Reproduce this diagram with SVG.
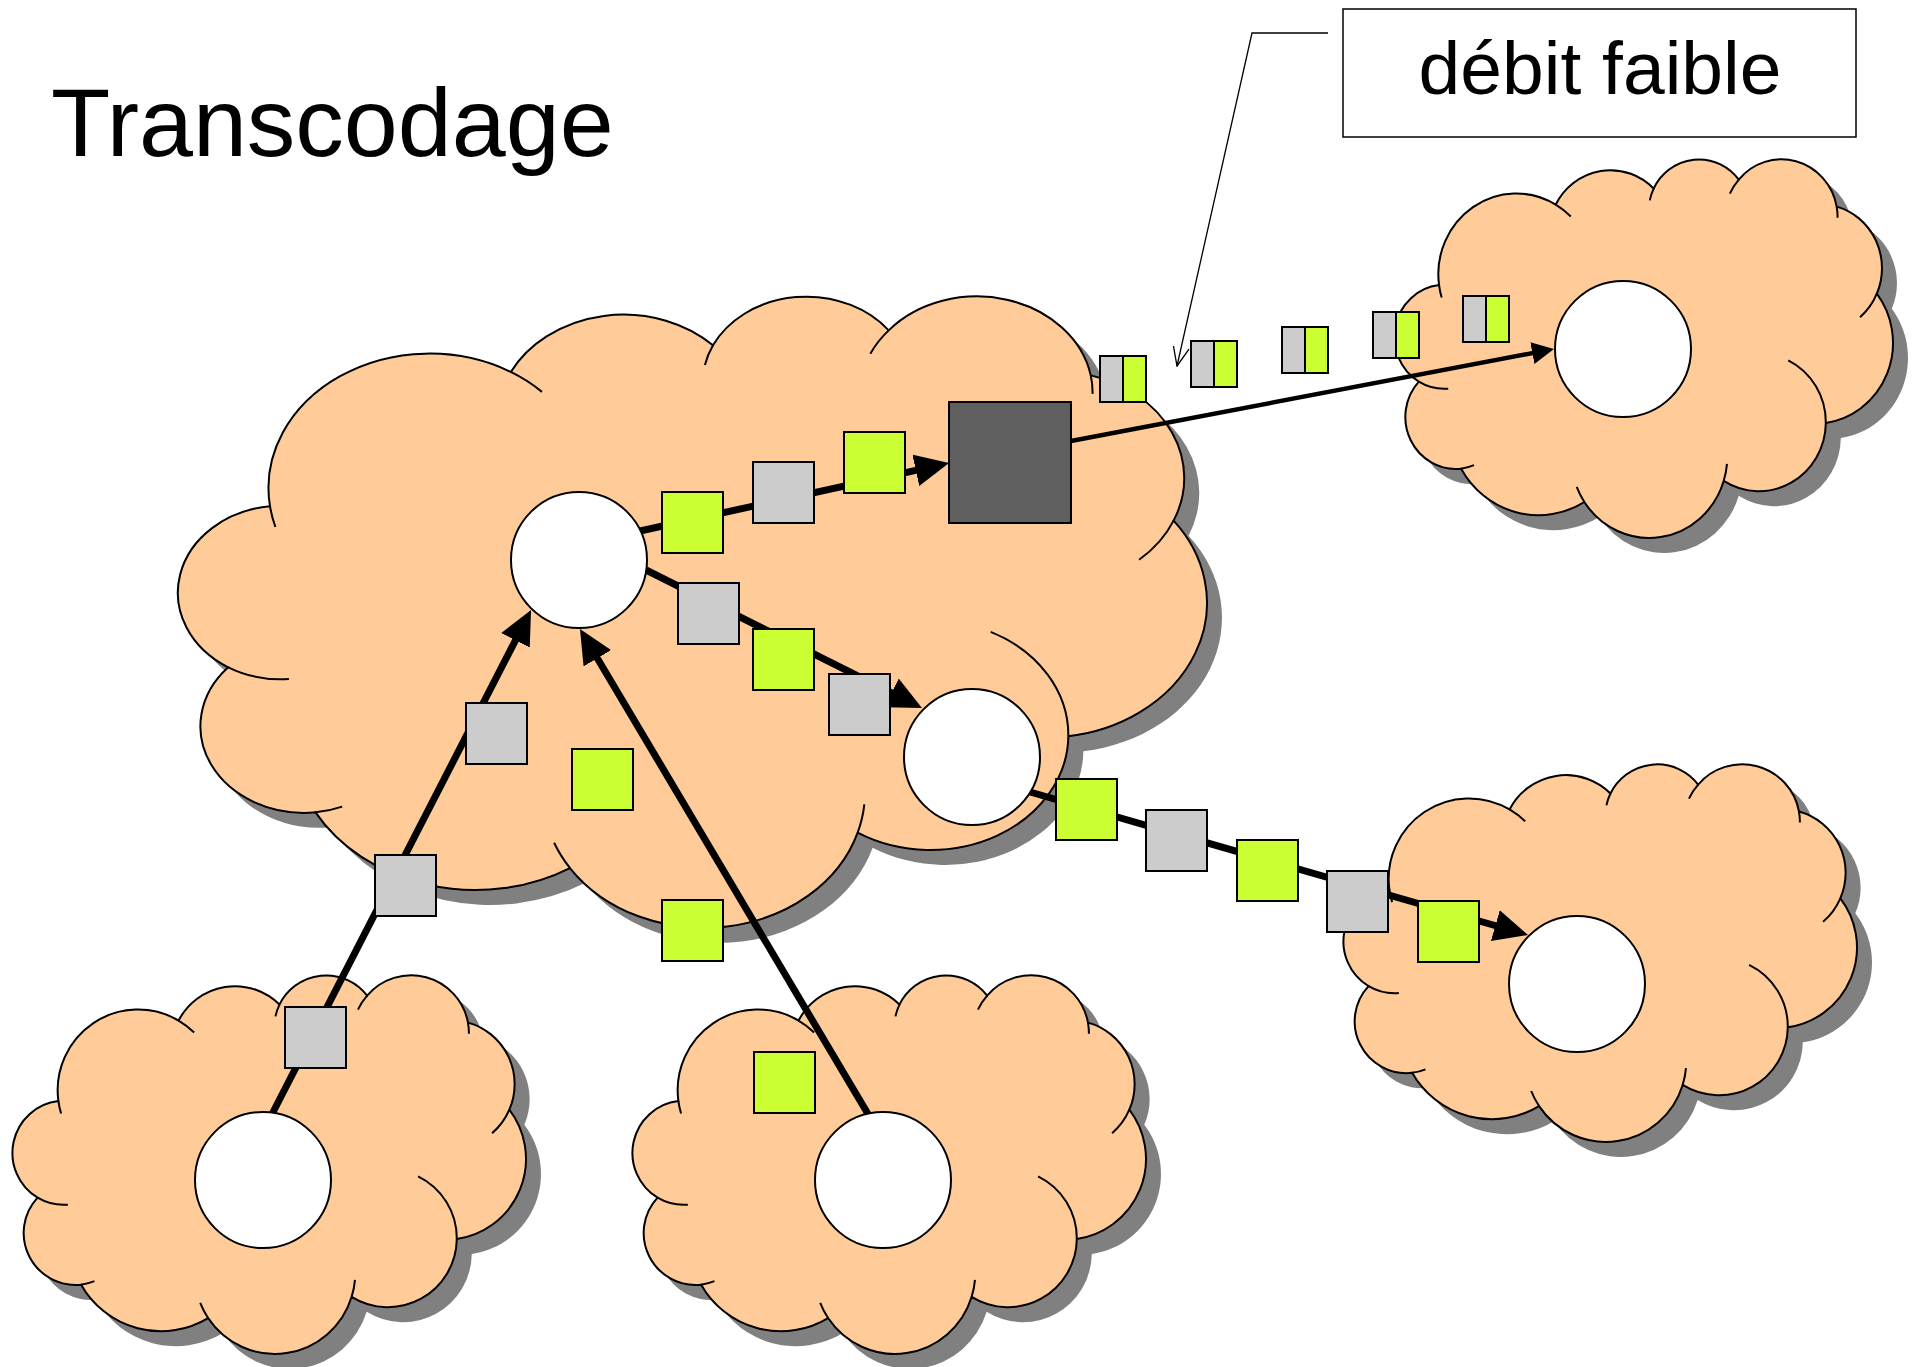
<svg xmlns="http://www.w3.org/2000/svg" xmlns:xlink="http://www.w3.org/1999/xlink" width="1927" height="1367" viewBox="0 0 1927 1367">
  <style>
    .shadow { fill: #808080; stroke: none; }
    .cloud { fill: #FFCC99; stroke: #000; stroke-width: 2; }
    .curl { fill: none; stroke: #000; stroke-width: 2; }
    .host { fill: #FFFFFF; stroke: #000; stroke-width: 2; }
    .pkt-grey { fill: #CCCCCC; stroke: #000; stroke-width: 2; }
    .pkt-green { fill: #CCFF33; stroke: #000; stroke-width: 2; }
    .link { fill: none; stroke: #000; stroke-width: 7; marker-end: url(#headL); }
    .link-thin { fill: none; stroke: #000; stroke-width: 4.5; marker-end: url(#headS); }
    .leader { fill: none; stroke: #000; stroke-width: 1.3; marker-end: url(#headOpen); }
    .label { font-family: "Liberation Sans", Arial, sans-serif; fill: #000; }
  </style>
  <defs>
    <!-- cloud outline in a 43200 x 43200 box -->
    <path id="cloudBody" vector-effect="non-scaling-stroke" d="M3900 14370 A6753 9190 0 0 1 14000 5192 A5333 7267 0 0 1 22480 3370 A4365 5945 0 0 1 29850 2350 A4857 6595 0 0 1 38324 5426 A5333 7273 0 0 1 41798 15354 A6775 9220 0 0 1 37384 30095 A5785 7867 0 0 1 28547 36680 A6752 9215 0 0 1 16480 39100 A7720 10543 0 0 1 5810 35295 A4360 5918 0 0 1 2150 25380 A4345 5945 0 0 1 3900 14370 Z"/>
    <!-- inner curls of the cloud lobes -->
    <path id="cloudCurls" vector-effect="non-scaling-stroke" d="M4693 26177 A4345 5945 0 0 1 2150 25380 M6928 34899 A4360 5918 0 0 1 5810 35295 M16478 39090 A6752 9215 0 0 1 15817 37371 M28827 34751 A6752 9215 0 0 1 28547 36680 M34129 22954 A5785 7867 0 0 1 37384 30095 M41798 15354 A5333 7273 0 0 1 40350 18030 M38324 5426 A4857 6595 0 0 1 38400 6690 M29078 3952 A4857 6595 0 0 1 29850 2350 M22141 4720 A4365 5945 0 0 1 22480 3370 M14000 5192 A6753 9190 0 0 1 15306 6552 M4127 15789 A6753 9190 0 0 1 3900 14370"/>
    <marker id="headL" viewBox="0 0 34 32" refX="14" refY="16" markerWidth="34" markerHeight="32" markerUnits="userSpaceOnUse" orient="auto">
      <path d="M0 0 L34 16 L0 32 Z" fill="#000"/>
    </marker>
    <marker id="headS" viewBox="0 0 22 22" refX="8" refY="11" markerWidth="22" markerHeight="22" markerUnits="userSpaceOnUse" orient="auto">
      <path d="M0 0 L22 11 L0 22 Z" fill="#000"/>
    </marker>
    <marker id="headOpen" viewBox="0 0 20 20" refX="19" refY="10" markerWidth="20" markerHeight="20" markerUnits="userSpaceOnUse" orient="auto">
      <path d="M0 2 L19 10 L0 18" fill="none" stroke="#000" stroke-width="1.3"/>
    </marker>
  </defs>

  <rect width="1927" height="1367" fill="#FFFFFF"/>

  <!-- title -->
  <text class="label" x="51" y="156" font-size="97">Transcodage</text>

  <!-- networks -->
  <g id="net-core">
    <g transform="translate(192,311) scale(0.023843,0.014630)"><use xlink:href="#cloudBody" class="shadow"/></g>
    <g transform="translate(177,296) scale(0.023843,0.014630)"><use xlink:href="#cloudBody" class="cloud"/><use xlink:href="#cloudCurls" class="curl"/></g>
  </g>
  <g id="net-bottom-left">
    <g transform="translate(27,990) scale(0.011898,0.008773)"><use xlink:href="#cloudBody" class="shadow"/></g>
    <g transform="translate(12,975) scale(0.011898,0.008773)"><use xlink:href="#cloudBody" class="cloud"/><use xlink:href="#cloudCurls" class="curl"/></g>
  </g>
  <g id="net-bottom-mid">
    <g transform="translate(647,990) scale(0.011898,0.008773)"><use xlink:href="#cloudBody" class="shadow"/></g>
    <g transform="translate(632,975) scale(0.011898,0.008773)"><use xlink:href="#cloudBody" class="cloud"/><use xlink:href="#cloudCurls" class="curl"/></g>
  </g>
  <g id="net-top-right">
    <g transform="translate(1409,174) scale(0.011551,0.008773)"><use xlink:href="#cloudBody" class="shadow"/></g>
    <g transform="translate(1394,159) scale(0.011551,0.008773)"><use xlink:href="#cloudBody" class="cloud"/><use xlink:href="#cloudCurls" class="curl"/></g>
  </g>
  <g id="net-right">
    <g transform="translate(1358,779) scale(0.011898,0.00875)"><use xlink:href="#cloudBody" class="shadow"/></g>
    <g transform="translate(1343,764) scale(0.011898,0.00875)"><use xlink:href="#cloudBody" class="cloud"/><use xlink:href="#cloudCurls" class="curl"/></g>
  </g>

  <!-- connectors -->
  <g id="connectors">
    <line class="link" x1="640" y1="531" x2="929.5" y2="467.3"/>
    <line class="link" x1="646" y1="570" x2="904.1" y2="699.1"/>
    <line class="link" x1="1030" y1="792" x2="1508.8" y2="929.5"/>
    <line class="link" x1="272.6" y1="1113" x2="521.9" y2="627.8"/>
    <line class="link" x1="868" y1="1114" x2="590.2" y2="646.2"/>
    <line class="link-thin" x1="1071" y1="441" x2="1540.2" y2="351.6"/>
    <polyline class="leader" points="1328,33 1252,33 1177,366"/>
  </g>

  <!-- hosts -->
  <g id="host-core"><circle class="host" cx="579" cy="560" r="68"/></g>
  <g id="host-relay"><circle class="host" cx="972" cy="757" r="68"/></g>
  <g id="host-top-right"><circle class="host" cx="1623" cy="349" r="68"/></g>
  <g id="host-right"><circle class="host" cx="1577" cy="984" r="68"/></g>
  <g id="host-bottom-left"><circle class="host" cx="263" cy="1180" r="68"/></g>
  <g id="host-bottom-mid"><circle class="host" cx="883" cy="1180" r="68"/></g>

  <!-- transcoder -->
  <g id="transcoder"><rect x="949" y="402" width="122" height="121" fill="#5F5F5F" stroke="#000" stroke-width="2"/></g>

  <!-- full-rate packets -->
  <g id="packets">
    <rect class="pkt-grey" x="753" y="462" width="61" height="61"/>
    <rect class="pkt-grey" x="678" y="583" width="61" height="61"/>
    <rect class="pkt-grey" x="829" y="674" width="61" height="61"/>
    <rect class="pkt-grey" x="466" y="703" width="61" height="61"/>
    <rect class="pkt-grey" x="375" y="855" width="61" height="61"/>
    <rect class="pkt-grey" x="285" y="1007" width="61" height="61"/>
    <rect class="pkt-grey" x="1146" y="810" width="61" height="61"/>
    <rect class="pkt-grey" x="1327" y="871" width="61" height="61"/>
    <rect class="pkt-green" x="662" y="492" width="61" height="61"/>
    <rect class="pkt-green" x="844" y="432" width="61" height="61"/>
    <rect class="pkt-green" x="753" y="629" width="61" height="61"/>
    <rect class="pkt-green" x="572" y="749" width="61" height="61"/>
    <rect class="pkt-green" x="662" y="900" width="61" height="61"/>
    <rect class="pkt-green" x="754" y="1052" width="61" height="61"/>
    <rect class="pkt-green" x="1056" y="779" width="61" height="61"/>
    <rect class="pkt-green" x="1237" y="840" width="61" height="61"/>
    <rect class="pkt-green" x="1418" y="901" width="61" height="61"/>
  </g>

  <!-- low-rate packets after transcoding -->
  <g id="packets-low">
    <g transform="translate(1100,356)"><rect class="pkt-grey" width="23" height="46"/><rect class="pkt-green" x="23" width="23" height="46"/></g>
    <g transform="translate(1191,341)"><rect class="pkt-grey" width="23" height="46"/><rect class="pkt-green" x="23" width="23" height="46"/></g>
    <g transform="translate(1282,327)"><rect class="pkt-grey" width="23" height="46"/><rect class="pkt-green" x="23" width="23" height="46"/></g>
    <g transform="translate(1373,312)"><rect class="pkt-grey" width="23" height="46"/><rect class="pkt-green" x="23" width="23" height="46"/></g>
    <g transform="translate(1463,296)"><rect class="pkt-grey" width="23" height="46"/><rect class="pkt-green" x="23" width="23" height="46"/></g>
  </g>

  <!-- callout -->
  <g id="callout">
    <rect x="1343" y="9" width="513" height="128" fill="#FFFFFF" stroke="#000" stroke-width="1.5"/>
    <text class="label" x="1600" y="94" font-size="75" text-anchor="middle">débit faible</text>
  </g>
</svg>
